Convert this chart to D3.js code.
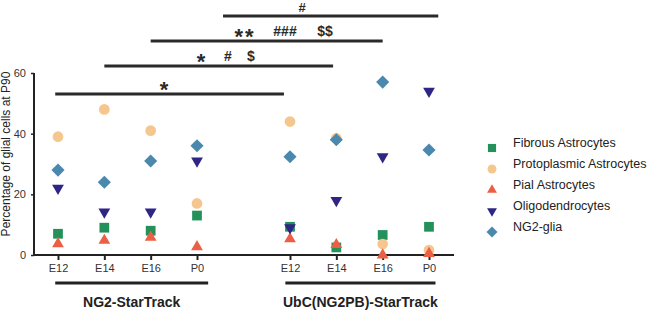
<!DOCTYPE html>
<html>
<head>
<meta charset="utf-8">
<script src="https://cdn.jsdelivr.net/npm/d3@7"></script>
<style>
  body { margin: 0; background: #fff; }
  text { font-family: Arial, 'Liberation Sans', sans-serif; }
</style>
</head>
<body>
<script>
const timepoints = ['E12', 'E14', 'E16', 'P0']
const groups = ['NG2-StarTrack', 'UbC(NG2PB)-StarTrack']
const cellTypes = ['Fibrous Astrocytes', 'Protoplasmic Astrocytes', 'Pial Astrocytes', 'Oligodendrocytes', 'NG2-glia']

// values per cell type, NG2 group E12..P0 then UbC group E12..P0
const fibrous = [7, 9, 8, 13, 9.3, 2.5, 6.6, 9.3]
const protoplasmic = [39, 48, 41, 17, 44, 38.5, 3.6, 1.6]
const pial = [3.7, 4.8, 5.8, 2.7, 5.3, 3.4, 0, 0.5]
const oligo = [22, 14.2, 14.2, 31, 9, 18, 32.4, 54]
const ng2glia = [28, 24, 31, 36, 32.4, 38, 57, 34.6]

const yTicks = [0, 20, 40, 60]

// significance bars: [from slot, to slot, labels]
const sigBars = [
  [-0.06, 3.935, ['*']],
  [1, 4.93, ['*', '#', '$']],
  [2, 6, ['**', '###', '$$']],
  [3.28, 7.2, ['#']]
]

const width = 660
const height = 310

const svg = d3.select('body')
  .append('svg')
  .attr('width', width)
  .attr('height', height)

// x positions by slot index (gap between groups)
const slots = d3.range(8)
const x = d3.scaleLinear()
  .domain([0, 3, 4, 7])
  .range([58, 197, 290, 429])

const y = d3.scaleLinear()
  .domain([0, 60])
  .range([255, 73])

const series = [
  { name: cellTypes[0], values: fibrous, color: '#25915a', sym: d3.symbolSquare, size: 95, rot: 0 },
  { name: cellTypes[1], values: protoplasmic, color: '#f6c68f', sym: d3.symbolCircle, size: 90, rot: 0 },
  { name: cellTypes[2], values: pial, color: '#ec5f45', sym: d3.symbolTriangle, size: 60, rot: 0 },
  { name: cellTypes[3], values: oligo, color: '#2f2585', sym: d3.symbolTriangle, size: 60, rot: 180 },
  { name: cellTypes[4], values: ng2glia, color: '#4b88ad', sym: d3.symbolDiamond2, size: 110, rot: 0 }
]

// y axis
const yAxis = svg.append('g')
  .attr('transform', 'translate(34,0)')
  .call(d3.axisLeft(y).tickValues(yTicks).tickSize(3).tickPadding(5))
yAxis.select('.domain').attr('stroke', '#222').attr('stroke-width', 2).attr('d', 'M0,' + y(60) + 'V' + y(0))
yAxis.selectAll('.tick line').attr('stroke', '#222').attr('stroke-width', 1.5)
yAxis.selectAll('.tick text').attr('font-size', 11).attr('fill', '#333')

svg.append('text')
  .attr('transform', 'translate(10,' + 154 + ') rotate(-90)')
  .attr('text-anchor', 'middle')
  .attr('font-size', 12)
  .attr('fill', '#222')
  .text('Percentage of glial cells at P90')

// x axis
const xAxis = svg.append('g')
  .attr('transform', 'translate(0,' + y(0) + ')')
  .call(d3.axisBottom(x).tickValues(slots).tickSize(5).tickPadding(4)
    .tickFormat(i => timepoints[i % 4]))
xAxis.select('.domain').attr('stroke', '#222').attr('stroke-width', 2).attr('d', 'M33,0H454')
xAxis.selectAll('.tick line').attr('stroke', '#222').attr('stroke-width', 2)
xAxis.selectAll('.tick text').attr('font-size', 11).attr('fill', '#333')

// group underlines and labels
const groupSpan = [[-0.06, 3.12], [3.95, 7.14]]
groups.forEach((g, i) => {
  svg.append('line')
    .attr('x1', x(groupSpan[i][0])).attr('x2', x(groupSpan[i][1]))
    .attr('y1', 283).attr('y2', 283)
    .attr('stroke', '#222').attr('stroke-width', 3)
  svg.append('text')
    .attr('x', (x(groupSpan[i][0]) + x(groupSpan[i][1])) / 2)
    .attr('y', 307)
    .attr('text-anchor', 'middle')
    .attr('font-size', 14)
    .attr('font-weight', 'bold')
    .attr('fill', '#222')
    .text(g)
})

// significance bars
const barY = [94, 66, 41, 16]
const labelX = [[165], [202, 228, 251], [245, 285, 325], [302]]
sigBars.forEach((b, i) => {
  svg.append('line')
    .attr('x1', x(b[0])).attr('x2', x(b[1]))
    .attr('y1', barY[i]).attr('y2', barY[i])
    .attr('stroke', '#2a2a2a').attr('stroke-width', 3)
  b[2].forEach((t, j) => {
    const star = t[0] === '*'
    svg.append('text')
      .attr('x', labelX[i][j])
      .attr('y', barY[i] + (star ? 3 : (i === 3 ? -4 : -5)))
      .attr('text-anchor', 'middle')
      .attr('font-size', star ? 22 : (i === 3 ? 13 : 14))
      .attr('font-weight', 'bold')
      .attr('fill', '#2a2a2a')
      .attr('letter-spacing', star ? 2 : 0)
      .text(t)
  })
})

// points
series.forEach(s => {
  svg.append('g')
    .selectAll('path')
    .data(s.values)
    .enter()
    .append('path')
    .attr('d', d3.symbol().type(s.sym).size(s.size))
    .attr('transform', (d, i) => 'translate(' + x(i) + ',' + y(d) + ') rotate(' + s.rot + ')')
    .attr('fill', s.color)
})

// legend
const legend = svg.append('g')
  .attr('transform', 'translate(492,148)')
series.forEach((s, i) => {
  const row = legend.append('g').attr('transform', 'translate(0,' + (i * 21) + ')')
  row.append('path')
    .attr('d', d3.symbol().type(s.sym).size(s.size * 0.7))
    .attr('transform', 'rotate(' + s.rot + ')')
    .attr('fill', s.color)
  row.append('text')
    .attr('x', 21)
    .attr('y', 0)
    .attr('dy', '-0.05em')
    .attr('font-size', 12.5)
    .attr('fill', '#222')
    .text(s.name)
})
</script>
</body>
</html>
